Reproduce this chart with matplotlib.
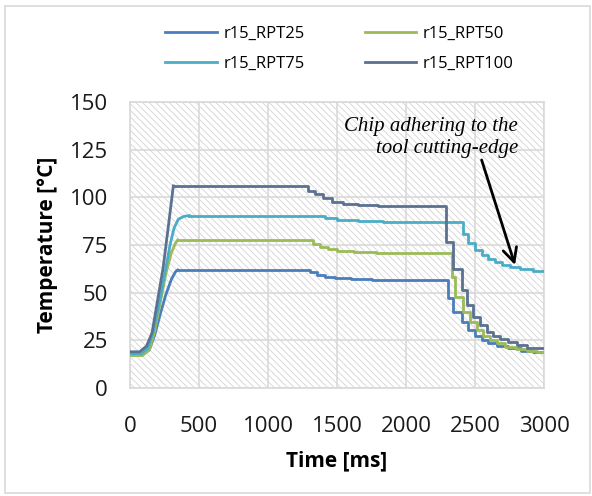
import matplotlib
matplotlib.use("Agg")
import matplotlib.pyplot as plt
from matplotlib.patches import Rectangle

# -----------------------------
# Data
# -----------------------------
series_names = ["r15_RPT25", "r15_RPT50", "r15_RPT75", "r15_RPT100"]
series_colors = ["#4a7ebb", "#9bbb59", "#4bacc6", "#5a7191"]

# heating part (smooth)
rpt25_rise_t = [0, 90, 140, 180, 220, 260, 300, 330, 345]
rpt25_rise_T = [17.5, 17.5, 20, 28, 39, 49, 57, 61, 61.9]
rpt50_rise_t = [0, 90, 140, 180, 220, 260, 300, 330, 345]
rpt50_rise_T = [17, 17, 20, 30, 45, 60, 71, 76, 77.6]
rpt75_rise_t = [0, 80, 130, 170, 210, 250, 290, 320, 350, 390, 430]
rpt75_rise_T = [18, 18, 21, 30, 44, 59, 75, 84, 88.5, 90, 90.4]
rpt100_rise_t = [0, 70, 120, 160, 200, 240, 280, 314]
rpt100_rise_T = [19, 19, 22, 29, 46, 63, 86, 106]

# holding / cooling part (stepped, level starts at each time)
rpt25_step_t = [345, 1304, 1353, 1413, 1486, 1600, 1750, 2307, 2343, 2403,
                2452, 2500, 2548, 2597, 2660, 2740, 2830, 2920, 3000]
rpt25_step_T = [61.9, 60.7, 59.3, 58.4, 57.9, 57.3, 56.6, 47.0, 40.0, 34.8,
                30.4, 27.3, 25.2, 23.4, 22.0, 20.8, 19.6, 18.9, 18.9]
rpt50_step_t = [345, 1329, 1377, 1437, 1498, 1620, 1780, 2331, 2355, 2415,
                2464, 2512, 2560, 2610, 2660, 2720, 2800, 2880, 2950, 3000]
rpt50_step_T = [77.6, 75.5, 74.1, 72.9, 72.0, 71.3, 70.6, 58.4, 47.9, 40.0,
                34.8, 30.4, 27.3, 25.2, 23.4, 21.7, 20.3, 19.4, 18.7, 18.7]
rpt75_step_t = [430, 1413, 1498, 1650, 1836, 2415, 2452, 2500, 2548, 2597,
                2645, 2693, 2754, 2826, 2920, 3000]
rpt75_step_T = [90.4, 89.0, 88.1, 87.5, 86.9, 80.6, 75.9, 72.4, 69.7, 67.6,
                65.9, 64.5, 63.3, 62.4, 61.6, 61.6]
rpt100_step_t = [314, 1292, 1341, 1401, 1461, 1546, 1650, 1800, 2290, 2343,
                 2403, 2440, 2488, 2536, 2585, 2633, 2681, 2742, 2802, 2880, 3000]
rpt100_step_T = [106, 103.5, 102, 99.5, 97.7, 96.7, 96.0, 95.4, 76.7, 62.2,
                 51.4, 43.5, 37.4, 33.0, 29.5, 27.3, 25.5, 24.0, 22.5, 21.2, 21.2]

rise_t = [rpt25_rise_t, rpt50_rise_t, rpt75_rise_t, rpt100_rise_t]
rise_T = [rpt25_rise_T, rpt50_rise_T, rpt75_rise_T, rpt100_rise_T]
step_t = [rpt25_step_t, rpt50_step_t, rpt75_step_t, rpt100_step_t]
step_T = [rpt25_step_T, rpt50_step_T, rpt75_step_T, rpt100_step_T]

x_ticks = [0, 500, 1000, 1500, 2000, 2500, 3000]
y_ticks = [0, 25, 50, 75, 100, 125, 150]

# -----------------------------
# Figure
# -----------------------------
plt.rcParams["font.family"] = ["Open Sans", "DejaVu Sans"]
plt.rcParams["hatch.linewidth"] = 0.6

fig = plt.figure(figsize=(5.92, 4.96), dpi=100)
ax = fig.add_axes([130 / 592, 1 - 388 / 496, 414 / 592, 286 / 496])

grid_col = "#d9d9d9"

# hatched plot area
ax.add_patch(Rectangle((0, 0), 1, 1, transform=ax.transAxes,
                       facecolor="white", edgecolor="#d4d4d4",
                       hatch="\\\\\\\\\\", linewidth=0, zorder=0))

lines = []
for i in range(4):
    ln, = ax.plot(rise_t[i], rise_T[i], color=series_colors[i], lw=2,
                  label=series_names[i], zorder=3 + i)
    ax.plot(step_t[i], step_T[i], color=series_colors[i], lw=2,
            drawstyle="steps-post", zorder=3 + i)
    lines.append(ln)

ax.set_xlim(0, 3000)
ax.set_ylim(0, 150)
ax.set_xticks(x_ticks)
ax.set_yticks(y_ticks)
ax.grid(True, color=grid_col, lw=1.2)
ax.set_axisbelow(True)
for s in ax.spines.values():
    s.set_color(grid_col)
    s.set_linewidth(1.2)
ax.tick_params(length=0, labelsize=16, colors="#1a1a1a")
ax.tick_params(axis="x", pad=20)
ax.tick_params(axis="y", pad=16)

ax.set_xlabel("Time [ms]", fontsize=15, fontweight="bold", labelpad=10)
ax.set_ylabel("Temperature [°C]", fontsize=15, fontweight="bold", labelpad=8)

# -----------------------------
# Annotation
# -----------------------------
ax.text(2812, 123.2, "Chip adhering to the\ntool cutting-edge",
        family="Liberation Serif", style="italic", fontsize=15,
        ha="right", va="baseline", multialignment="right",
        linespacing=1.2, zorder=10)
ax.annotate("", xy=(2790, 64.5), xytext=(2548, 119.6),
            arrowprops=dict(arrowstyle="->,head_length=1.0,head_width=0.5",
                            color="black", lw=2, shrinkA=0, shrinkB=0),
            zorder=10)

# -----------------------------
# Legend (row-wise order)
# -----------------------------
order = [0, 2, 1, 3]
ax.legend([lines[k] for k in order], [series_names[k] for k in order],
          loc="center", bbox_to_anchor=(339.5 / 592, 1 - 49 / 496),
          bbox_transform=fig.transFigure, ncol=2, frameon=False,
          fontsize=12, handlelength=3.1, handletextpad=0.4,
          columnspacing=3.6, labelspacing=0.8)

# chart area border
fig.patches.append(Rectangle((5 / 592, 3 / 496), 585 / 592, 487 / 496,
                             transform=fig.transFigure, fill=False,
                             edgecolor=grid_col, lw=1.2))

fig.savefig("out.png", dpi=100)
